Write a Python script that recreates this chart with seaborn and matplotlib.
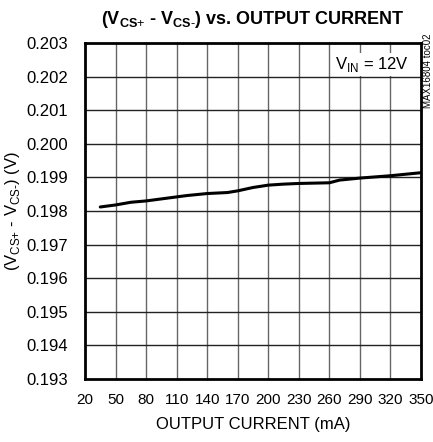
import pandas as pd
import matplotlib.pyplot as plt
import seaborn as sns

# Sense voltage vs. load current
current_ma = [35, 50, 65, 80, 100, 120, 140, 160, 170, 185, 200, 215, 230,
              245, 260, 270, 290, 320, 350]
vsense = [0.19812, 0.19818, 0.19826, 0.19830, 0.19838, 0.19846, 0.19852,
          0.19855, 0.19860, 0.19870, 0.19877, 0.19880, 0.19882, 0.19883,
          0.19884, 0.19892, 0.19898, 0.19905, 0.19914]

x_ticks = list(range(20, 351, 30))
y_ticks = [0.193, 0.194, 0.195, 0.196, 0.197, 0.198, 0.199, 0.200, 0.201, 0.202, 0.203]

df = pd.DataFrame({"current": current_ma, "vsense": vsense})

sns.set_theme(style="white")
plt.rcParams["font.family"] = ["Liberation Sans", "DejaVu Sans"]
plt.rcParams["mathtext.fontset"] = "custom"
plt.rcParams["mathtext.rm"] = "Liberation Sans"
plt.rcParams["mathtext.bf"] = "Liberation Sans:bold"

fig = plt.figure(figsize=(4.33, 4.42), dpi=100)
ax = fig.add_axes([0.1963, 0.1425, 0.9723 - 0.1963, 0.9027 - 0.1425])

sns.lineplot(data=df, x="current", y="vsense", color="black", linewidth=2.2, ax=ax)

ax.set_xlim(20, 350)
ax.set_ylim(0.193, 0.203)
ax.set_xticks(x_ticks)
ax.set_yticks(y_ticks)
ax.set_yticklabels([f"{v:.3f}" for v in y_ticks])
ax.tick_params(axis="y", labelsize=12, length=0, pad=12, colors="black")
ax.tick_params(axis="x", labelsize=11, length=0, pad=10, colors="black")

# Grid
for xv in x_ticks[1:-1]:
    ax.axvline(xv, color="#666666", linewidth=1.0, zorder=0)
for yv in y_ticks[1:-1]:
    ax.axhline(yv, color="#222222", linewidth=1.0, zorder=0)

for s in ax.spines.values():
    s.set_visible(True)
    s.set_color("black")
    s.set_linewidth(2.0)

ax.set_xlabel("OUTPUT CURRENT (mA)", fontsize=12, color="black", labelpad=7)
ax.set_ylabel(r"(V$_{\text{CS+}}$ - V$_{\text{CS-}}$) (V)", fontsize=12,
              color="black", labelpad=3)
ax.set_title(r"(V$_{\mathbf{CS}\text{+}}$ - V$_{\mathbf{CS}\text{-}}$) vs. OUTPUT CURRENT",
             fontsize=13, fontweight="bold", color="black", pad=14)

ax.text(338, 0.20235, r"V$_{\mathrm{IN}}$ = 12V", ha="right", va="center",
        fontsize=12, color="black",
        bbox=dict(facecolor="white", edgecolor="none", pad=1.5), zorder=3)

fig.text(0.989, 0.925, "MAX16804 toc02", rotation=90, ha="center", va="top",
         fontsize=7, color="black")

plt.savefig("out.png", dpi=100)
